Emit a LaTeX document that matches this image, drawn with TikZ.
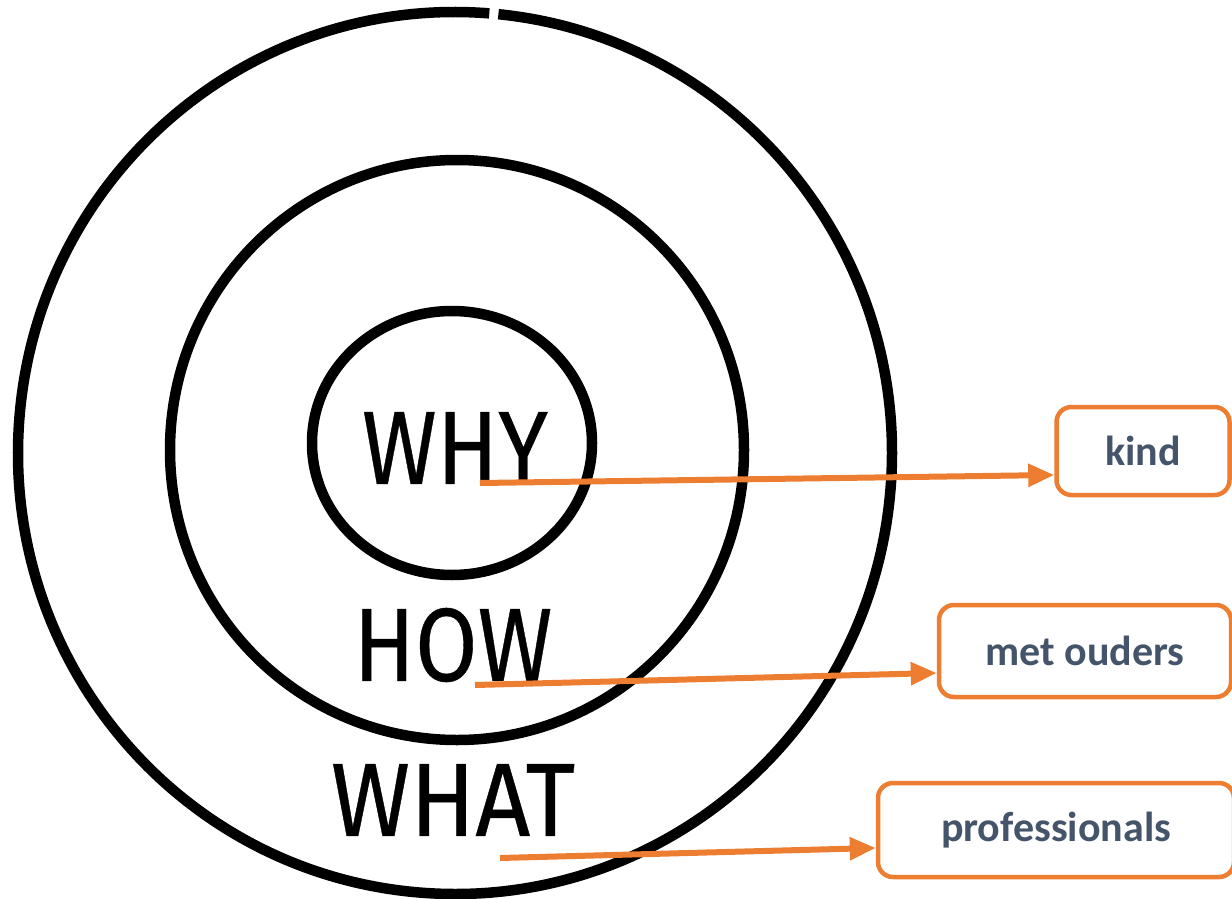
\documentclass[tikz,border=0pt]{standalone}
\usepackage{fontspec}
\setmainfont{Carlito}
\newfontfamily\handfont[FakeBold=0.4]{Fira Sans}
\usetikzlibrary{arrows.meta}
\definecolor{boxorange}{HTML}{ED7D31}
\definecolor{boxtext}{HTML}{44546A}
\tikzset{
    ring/.style={line width=10.5pt, black},
    circletext/.style={font=\handfont\fontsize{104}{104}\selectfont, xscale=0.87, inner sep=0pt},
    labelbox/.style={draw=boxorange, line width=4.5pt, rounded corners=15pt, fill=white,
        text=boxtext, font=\bfseries\fontsize{42}{42}\selectfont, inner sep=0pt},
    pointer/.style={draw=boxorange, line width=6pt, -{Triangle[length=26pt,width=22pt]}}
}
\begin{document}
\begin{tikzpicture}[x=1pt, y=-1pt]
    \useasboundingbox (0,0) rectangle (1232,899);

    % Circles
    \draw[ring] (455,453) ++(85.5:437pt and 441pt) arc[start angle=85.5, end angle=444.3, x radius=437pt, y radius=441pt];
    \draw[ring] (457,450) ellipse [x radius=287pt, y radius=290pt];
    \draw[ring] (452,443) ellipse [x radius=140pt, y radius=132pt];

    % Circle labels
    \node[circletext] (why) at (455,448) {WHY};
    \node[circletext] (how) at (453,645) {HOW};
    \node[circletext, xscale=1.06] (what) at (453,800) {WHAT};

    % Boxes
    \node[labelbox, minimum width=173pt, minimum height=88pt] (kind) at (1143,451) {kind};
    \node[labelbox, minimum width=292pt, minimum height=92pt] (ouders) at (1085,651) {met ouders};
    \node[labelbox, minimum width=356pt, minimum height=94pt] (prof) at (1056,830) {professionals};

    % Arrows
    \coordinate (whyend) at (480,483);
    \coordinate (howend) at (475,685);
    \coordinate (whatend) at (500,858);
    \draw[pointer] (whyend) -- (kind.west |- 0,475);
    \draw[pointer] (howend) -- (ouders.west |- 0,673);
    \draw[pointer] (whatend) -- (prof.west |- 0,848);
\end{tikzpicture}
\end{document}
